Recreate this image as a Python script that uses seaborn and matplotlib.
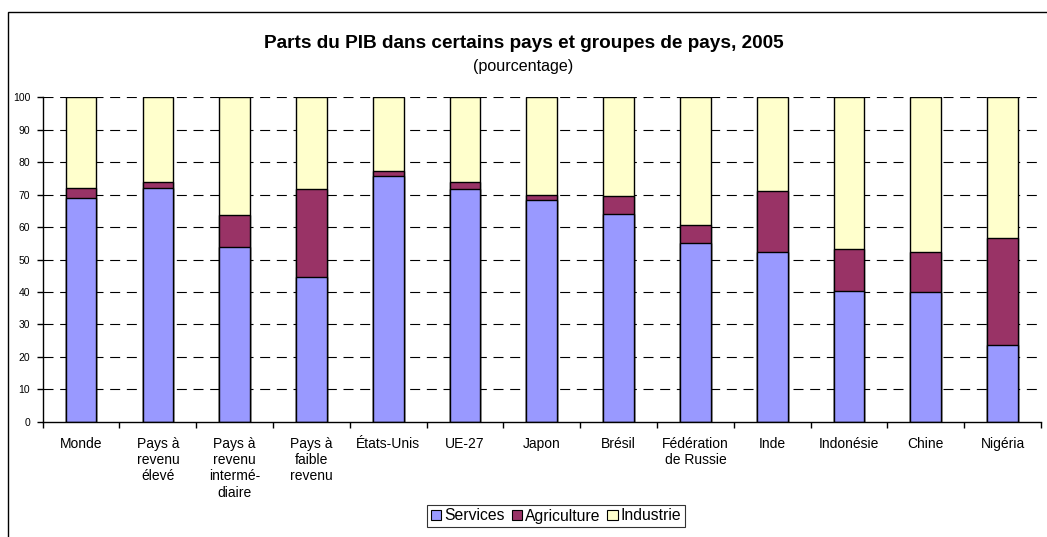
import matplotlib
matplotlib.use("Agg")
import matplotlib.pyplot as plt
import seaborn as sns
import pandas as pd
import numpy as np
from matplotlib.patches import Rectangle, Patch

categories = ["Monde", "Pays à\nrevenu\nélevé", "Pays à\nrevenu\ninterm\u00e9-\ndiaire",
              "Pays à\nfaible\nrevenu", "États-Unis", "UE-27", "Japon", "Brésil",
              "Fédération\nde Russie", "Inde", "Indonésie", "Chine", "Nigéria"]
services = [69.0, 72.0, 53.9, 44.6, 75.8, 71.7, 68.4, 63.9, 55.2, 52.3, 40.2, 39.9, 23.6]
agriculture = [3.1, 1.8, 9.8, 27.1, 1.4, 2.1, 1.6, 5.7, 5.5, 18.9, 12.9, 12.4, 32.9]
industrie = [100 - s - a for s, a in zip(services, agriculture)]
yticks = list(range(0, 101, 10))

c_serv, c_agri, c_ind = "#9999FF", "#993366", "#FFFFCC"

sns.set_theme(style="white")
plt.rcParams['font.family'] = ['Liberation Sans', 'DejaVu Sans']
plt.rcParams['text.color'] = 'black'
plt.rcParams['xtick.color'] = 'black'
plt.rcParams['ytick.color'] = 'black'
plt.rcParams['axes.labelcolor'] = 'black'

df = pd.DataFrame({"cat": categories, "Services": services,
                   "Agriculture": agriculture, "Industrie": industrie})
df["top_agri"] = df["Services"] + df["Agriculture"]
df["top_ind"] = df["top_agri"] + df["Industrie"]

fig = plt.figure(figsize=(10.47, 5.37), dpi=100)
ax = fig.add_axes([42.7/1047, 1 - 421.7/537, (1041 - 42.7)/1047, (421.7 - 97.3)/537])

kw = dict(width=0.4, edgecolor="black", linewidth=1.0, saturation=1, ax=ax, zorder=3)
sns.barplot(data=df, x="cat", y="top_ind", color=c_ind, **kw)
sns.barplot(data=df, x="cat", y="top_agri", color=c_agri, **kw)
sns.barplot(data=df, x="cat", y="Services", color=c_serv, **kw)

ax.set_xlim(-0.5, len(categories) - 0.5)
ax.set_ylim(0, 100)
ax.set_yticks(yticks)
ax.set_yticklabels([str(v) for v in yticks], fontsize=7.5)
ax.set_xticks(range(len(categories)))
ax.set_xticklabels(categories, fontsize=10, linespacing=1.2, va="top")
ax.set_xlabel("")
ax.set_ylabel("")
ax.tick_params(axis="x", length=0, pad=11)
ax.set_xticks(np.arange(-0.5, len(categories), 1.0), minor=True)
ax.tick_params(axis="x", which="minor", length=4, width=1, color="black", direction="out", bottom=True)
ax.tick_params(axis="y", length=4, width=1, color="black", direction="out", left=True, pad=5)

for v in yticks[1:]:
    ax.axhline(v, color="black", linewidth=0.8, linestyle=(0, (9, 6)), zorder=1)

for s in ["top", "right"]:
    ax.spines[s].set_visible(False)
for s in ["left", "bottom"]:
    ax.spines[s].set_color("black")
    ax.spines[s].set_linewidth(1.0)
    ax.spines[s].set_zorder(4)

fig.text(0.5, 1 - 43/537, "Parts du PIB dans certains pays et groupes de pays, 2005",
         ha="center", va="center", fontsize=13.7, fontweight="bold")
fig.text(0.5, 1 - 66/537, "(pourcentage)", ha="center", va="center", fontsize=11.6)

handles = [Patch(facecolor=c_serv, edgecolor="black", linewidth=0.8),
           Patch(facecolor=c_agri, edgecolor="black", linewidth=0.8),
           Patch(facecolor=c_ind, edgecolor="black", linewidth=0.8)]
leg = fig.legend(handles, ["Services", "Agriculture", "Industrie"], loc="center",
                 bbox_to_anchor=(556/1047, 1 - 516/537), ncol=3, fontsize=11.3,
                 frameon=True, fancybox=False, handlelength=0.65, handleheight=0.65,
                 handletextpad=0.2, columnspacing=0.45, borderpad=0.25, borderaxespad=0)
leg.get_frame().set_edgecolor("black")
leg.get_frame().set_linewidth(0.8)

fig.patches.append(Rectangle((8/1047, -0.05), 1.1, 1 - 12/537 + 0.05,
                             transform=fig.transFigure, fill=False,
                             edgecolor="black", linewidth=1.0))

fig.savefig("out.png", dpi=100)
